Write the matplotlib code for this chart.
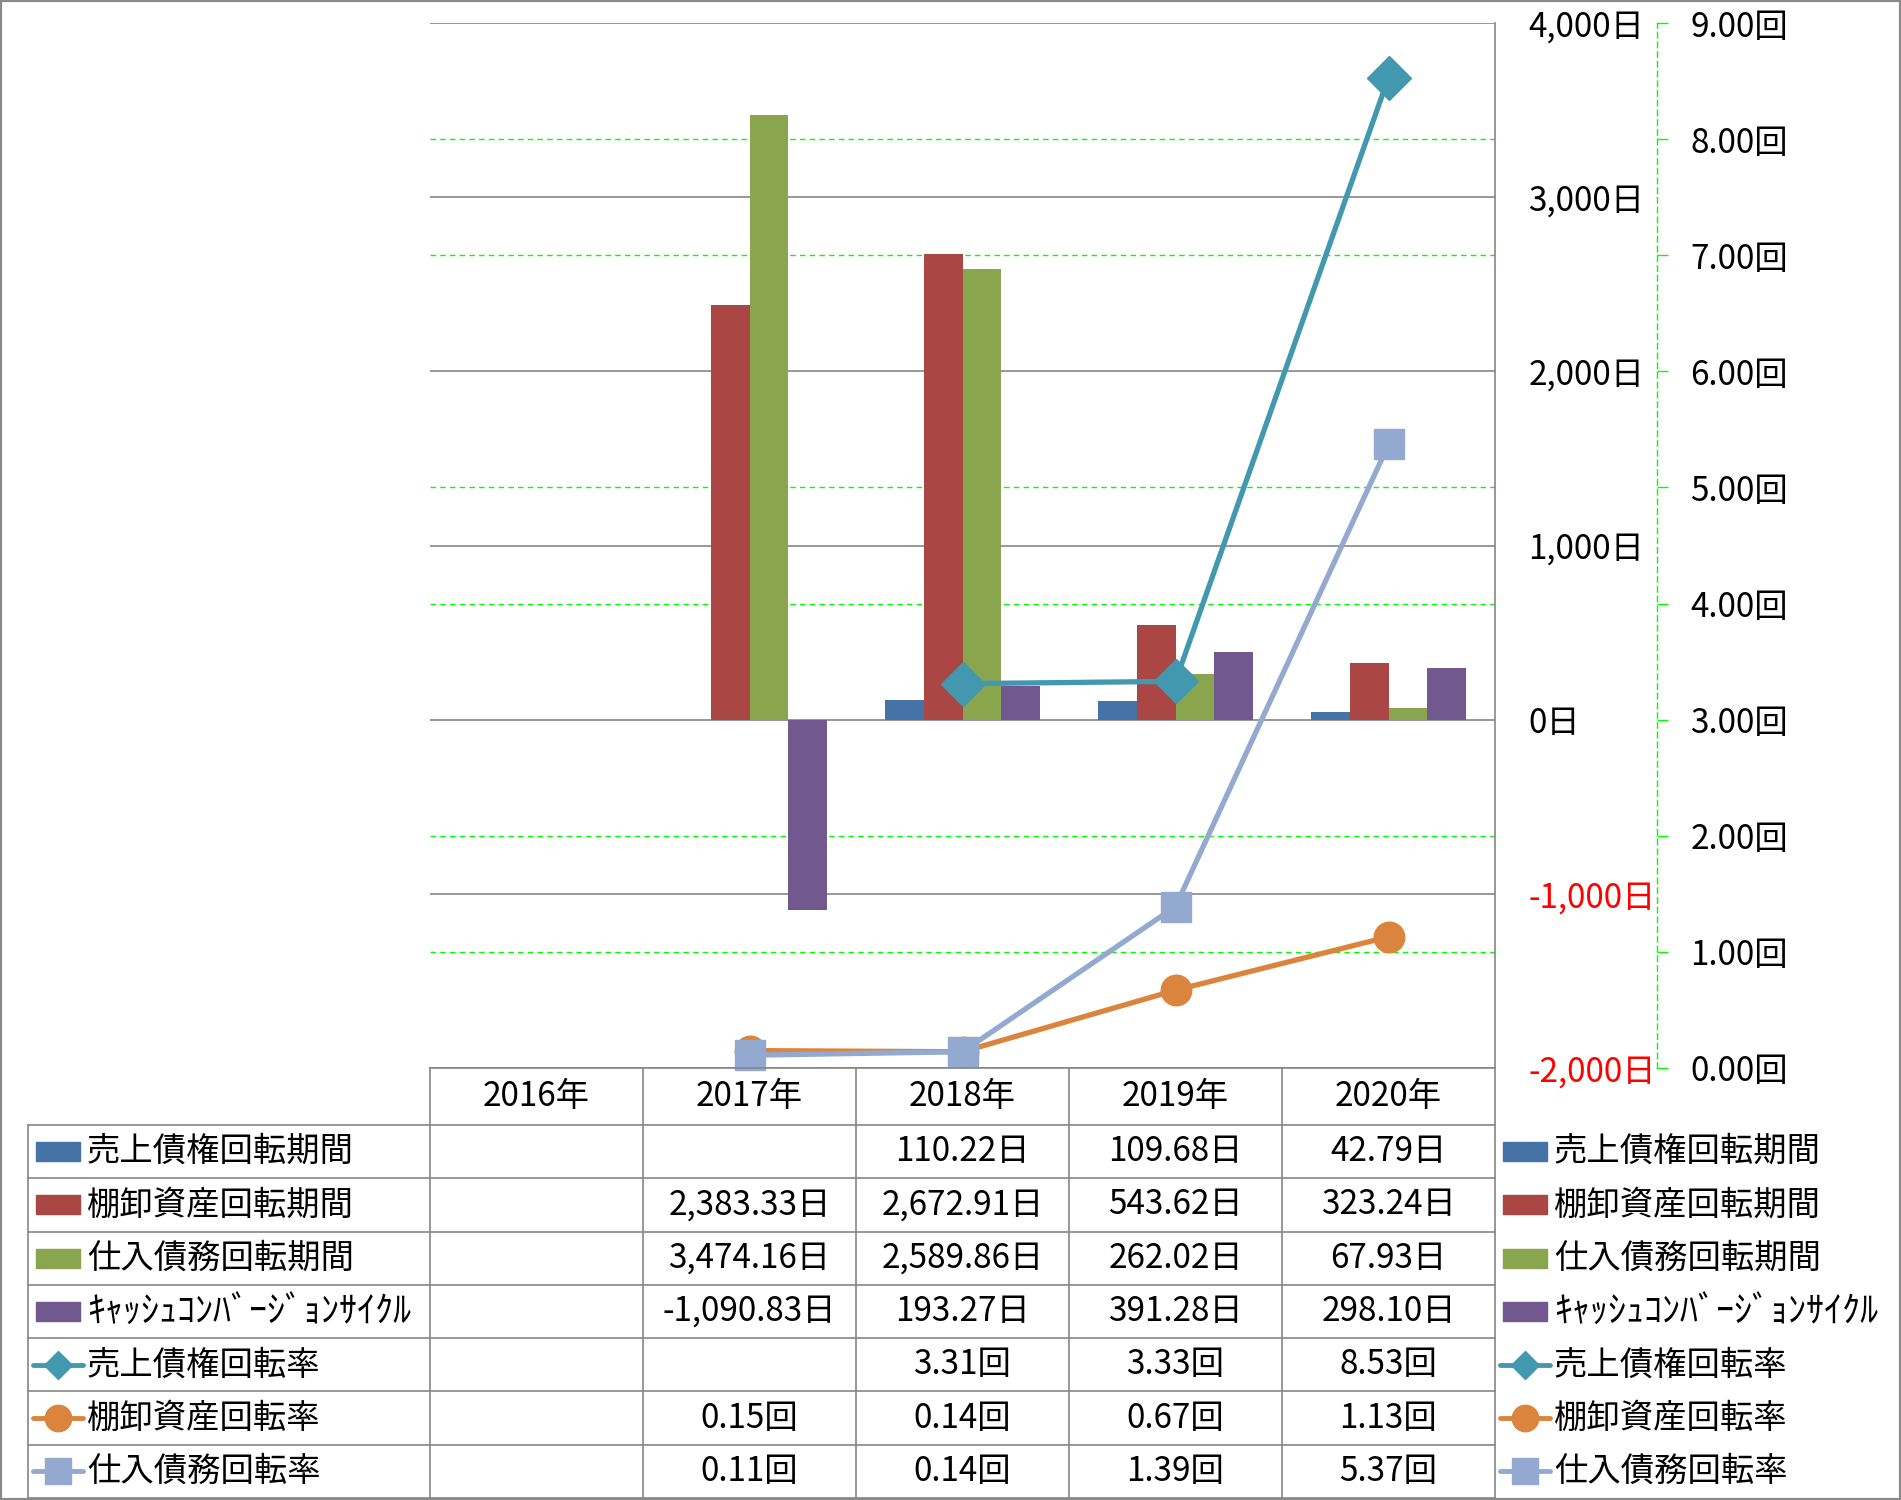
import matplotlib.pyplot as plt
import numpy as np
from matplotlib.patches import Rectangle
from matplotlib.ticker import FixedLocator

plt.rcParams['font.family'] = ['Noto Sans CJK JP', 'DejaVu Sans']

# data
years = ['2016年', '2017年', '2018年', '2019年', '2020年']
nan = np.nan
bar_names = ['売上債権回転期間', '棚卸資産回転期間', '仕入債務回転期間', 'ｷｬｯｼｭｺﾝﾊﾞｰｼﾞｮﾝｻｲｸﾙ']
receivable_days = [nan, nan, 110.22, 109.68, 42.79]
inventory_days = [nan, 2383.33, 2672.91, 543.62, 323.24]
payable_days = [nan, 3474.16, 2589.86, 262.02, 67.93]
ccc_days = [nan, -1090.83, 193.27, 391.28, 298.10]
line_names = ['売上債権回転率', '棚卸資産回転率', '仕入債務回転率']
receivable_turn = [nan, nan, 3.31, 3.33, 8.53]
inventory_turn = [nan, 0.15, 0.14, 0.67, 1.13]
payable_turn = [nan, 0.11, 0.14, 1.39, 5.37]

bar_series = [receivable_days, inventory_days, payable_days, ccc_days]
line_series = [receivable_turn, inventory_turn, payable_turn]
bar_colors = ['#4572A7', '#AA4643', '#89A54E', '#71588F']
line_colors = ['#4198AF', '#DB843D', '#93A9CF']
markers = ['D', 'o', 's']
msizes = [22, 22, 21]

FS = 24
GRAY = '#868686'
LIME = '#00FF00'

W, H = 1901, 1500
fig = plt.figure(figsize=(W / 100, H / 100), dpi=100)
L, R, T, B = 430, 1495, 23, 1068  # plot area (pixels)
ax = fig.add_axes([L / W, 1 - B / H, (R - L) / W, (B - T) / H])

x = np.arange(len(years))
w = 0.182
for i, vals in enumerate(bar_series):
    ax.bar(x + (i - 1.5) * w, vals, w, color=bar_colors[i], zorder=2)

ax.set_xlim(-0.5, len(years) - 0.5)
ax.set_ylim(-2000, 4000)
ax.set_xticks([])
day_ticks = list(range(-2000, 4001, 1000))
ax.set_yticks(day_ticks)
ax.set_yticklabels([f'{v:,}日' for v in day_ticks])
# secondary-axis gridlines (green dashed) drawn behind the bars
ax.yaxis.set_minor_locator(FixedLocator(-2000 + np.arange(10) * 6000 / 9))
ax.yaxis.grid(True, which='minor', color=LIME, ls=(0, (4, 3)), lw=1)
ax.yaxis.grid(True, which='major', color=GRAY, lw=1.2)
ax.set_axisbelow(True)

ax2 = ax.twinx()
# twinx moves the primary ticks to the left, put them back on the right
ax.yaxis.tick_right()
ax.tick_params(axis='y', which='major', length=0, pad=24, labelsize=FS)
ax.tick_params(axis='y', which='minor', length=0)
for tick, v in zip(ax.yaxis.get_major_ticks(), day_ticks):
    tick.label2.set_color('#FF0000' if v < 0 else 'black')
for s in ['top', 'left', 'bottom']:
    ax.spines[s].set_visible(False)
ax.spines['right'].set_color(GRAY)
ax.spines['right'].set_linewidth(1.2)

ax2.set_ylim(0, 9)
for s in ['top', 'left', 'bottom']:
    ax2.spines[s].set_visible(False)
ax2.spines['right'].set_position(('outward', 162 * 0.72))
ax2.spines['right'].set_color(LIME)
ax2.spines['right'].set_linestyle((0, (4, 3)))
ax2.spines['right'].set_linewidth(1)
turn_ticks = list(range(10))
ax2.set_yticks(turn_ticks)
ax2.set_yticklabels([f'{v:.2f}回' for v in turn_ticks])
ax2.tick_params(axis='y', length=8, color=LIME, width=1, pad=16, labelsize=FS)

for i, vals in enumerate(line_series):
    ax2.plot(x, vals, color=line_colors[i], lw=3.8, marker=markers[i],
             ms=msizes[i], mfc=line_colors[i], mec=line_colors[i],
             clip_on=False, zorder=3)

# data table under the plot, in pixel coordinates
tax = fig.add_axes([0, 0, 1, 1])
tax.set_xlim(0, W)
tax.set_ylim(H, 0)
tax.axis('off')

cols = [L + i * (R - L) / len(years) for i in range(len(years) + 1)]
head_bot = 1125
row_h = (1498 - head_bot) / 7
rows = [head_bot + k * row_h for k in range(8)]
lw_t = 1.2

tax.plot([L, R], [B, B], color=GRAY, lw=lw_t)
for y in rows:
    tax.plot([28, R], [y, y], color=GRAY, lw=lw_t)
tax.plot([28, 28], [head_bot, rows[-1]], color=GRAY, lw=lw_t)
for c in cols:
    tax.plot([c, c], [B, rows[-1]], color=GRAY, lw=lw_t)

for j, yr in enumerate(years):
    tax.text((cols[j] + cols[j + 1]) / 2, (B + head_bot) / 2, yr,
             ha='center', va='center', fontsize=FS)

names = bar_names + line_names
values = bar_series + line_series
units = ['日'] * 4 + ['回'] * 3
for k, (name, vals, unit) in enumerate(zip(names, values, units)):
    yc = rows[k] + row_h / 2
    for j, v in enumerate(vals):
        if not np.isnan(v):
            tax.text((cols[j] + cols[j + 1]) / 2, yc, f'{v:,.2f}{unit}',
                     ha='center', va='center', fontsize=FS)
    # legend keys: left of table and right of table
    for kx, tx in [(36, 87), (1503, 1554)]:
        if k < 4:
            tax.add_patch(Rectangle((kx, yc - 9.5), 44, 19, color=bar_colors[k]))
        else:
            c = line_colors[k - 4]
            tax.plot([kx - 3, kx + 47], [yc, yc], color=c, lw=3.5, solid_capstyle='round')
            tax.plot([kx + 22], [yc], marker=markers[k - 4],
                     ms=14 if k == 4 else 19, color=c)
        tax.text(tx, yc, name, ha='left', va='center',
                 fontsize=FS + 2 if k == 3 else FS)

fig.add_artist(Rectangle((0, 0), 1, 1, transform=fig.transFigure, fill=False,
                         edgecolor='#898989', lw=3))

fig.savefig('out.png', dpi=100)
